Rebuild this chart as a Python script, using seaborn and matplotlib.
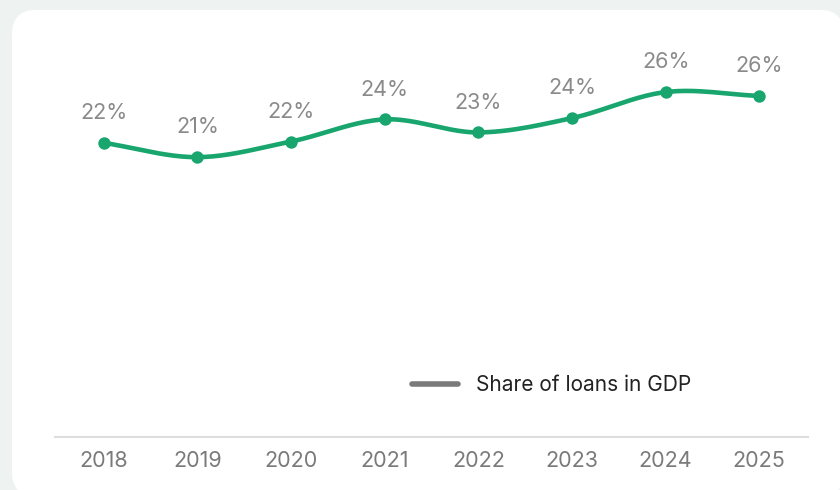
import numpy as np
import pandas as pd
import matplotlib
matplotlib.use("Agg")
import matplotlib.pyplot as plt
from matplotlib.patches import FancyBboxPatch
from matplotlib.lines import Line2D
import seaborn as sns

# Share of loans in GDP, percent
years = ["2018", "2019", "2020", "2021", "2022", "2023", "2024", "2025"]
loan_share = [22.0, 20.9, 22.1, 23.8, 22.8, 23.9, 25.9, 25.6]
series_name = "Share of loans in GDP"

GREEN = "#18a56e"
LABEL_GREY = "#8a8a8a"
TICK_GREY = "#7a7a7a"
FONT = ["Inter", "DejaVu Sans"]

sns.set_theme(style="white")
plt.rcParams["font.family"] = FONT

fig = plt.figure(figsize=(8.4, 4.9), dpi=100)
fig.patch.set_facecolor("#eef3f2")

# white rounded card behind the chart (pixel coordinates)
card = FancyBboxPatch((12, -6), 832, 486,
                      boxstyle="round,pad=0,rounding_size=24",
                      transform=None, facecolor="white", edgecolor="none",
                      zorder=0)
fig.add_artist(card)

ax = fig.add_axes([55 / 840, 1 - 437 / 490, (808 - 55) / 840, (437 - 40) / 490])
ax.set_facecolor("none")

x = np.arange(len(years))
y = np.asarray(loan_share, dtype=float)

# smooth cubic Hermite curve through the yearly points
tangents = np.gradient(y)
xs, ys = [], []
for i in range(len(x) - 1):
    t = np.linspace(0, 1, 25)
    h00 = 2 * t**3 - 3 * t**2 + 1
    h10 = t**3 - 2 * t**2 + t
    h01 = -2 * t**3 + 3 * t**2
    h11 = t**3 - t**2
    xs.append(x[i] + t)
    ys.append(h00 * y[i] + h10 * tangents[i] + h01 * y[i + 1] + h11 * tangents[i + 1])
curve = pd.DataFrame({"x": np.concatenate(xs), "y": np.concatenate(ys)})
points = pd.DataFrame({"x": x, "y": y})

sns.lineplot(data=curve, x="x", y="y", ax=ax, color=GREEN, linewidth=3.3,
             sort=False, zorder=3)
sns.scatterplot(data=points, x="x", y="y", ax=ax, color=GREEN, s=80,
                edgecolor=GREEN, linewidth=0, zorder=4)

for xi, yi in zip(x, y):
    ax.annotate(f"{yi:.0f}%", (xi, yi), xytext=(0, 21.5),
                textcoords="offset points", ha="center", va="center",
                fontsize=15.5, color=LABEL_GREY)

ax.set_xlim(-0.52, len(years) - 0.48)
ax.set_ylim(-0.6, 29.9)
ax.set_xticks(x)
ax.set_xticklabels(years)
ax.set_yticks([])
ax.set_xlabel("")
ax.set_ylabel("")
ax.tick_params(axis="x", length=0, pad=10, labelsize=15.5, labelcolor=TICK_GREY)
for side in ("top", "left", "right"):
    ax.spines[side].set_visible(False)
ax.spines["bottom"].set_color("#dddddd")
ax.spines["bottom"].set_linewidth(1.5)

handle = Line2D([0], [0], color="#7a7a7a", linewidth=4, solid_capstyle="round")
fig.legend([handle], [series_name], loc="center",
           bbox_to_anchor=(552 / 840, 1 - 385 / 490), frameon=False,
           fontsize=15, handlelength=2.2, handletextpad=0.87,
           labelcolor="#222222")

fig.savefig("out.png", dpi=100, facecolor=fig.get_facecolor())
